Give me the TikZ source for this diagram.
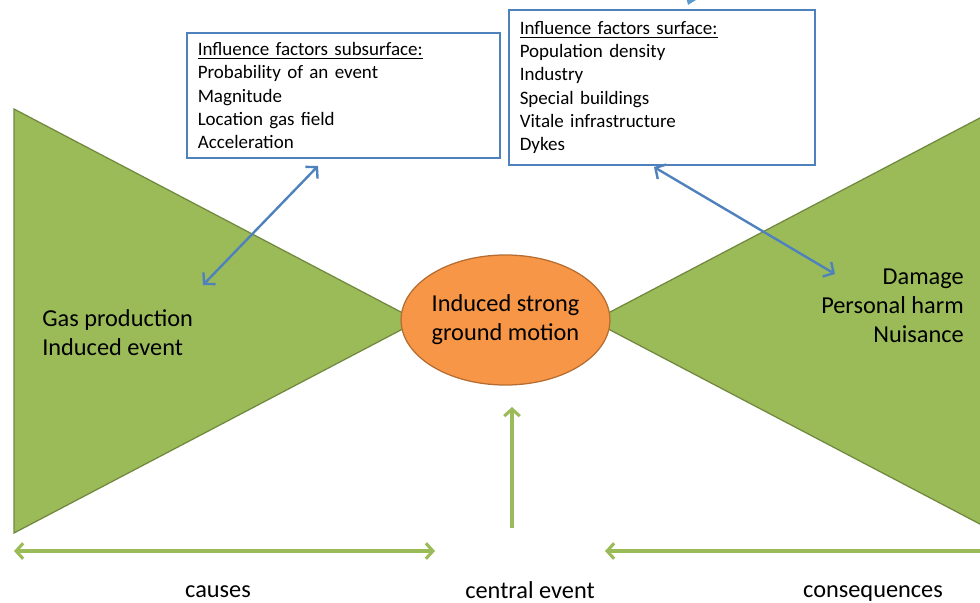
\documentclass[tikz,border=0pt]{standalone}
\usepackage{fontspec}
\setmainfont{Carlito}
\usetikzlibrary{arrows.meta,shapes.geometric}

\definecolor{bowgreen}{HTML}{9BBB59}
\definecolor{bowgreendark}{HTML}{71893F}
\definecolor{evorange}{HTML}{F79646}
\definecolor{evorangedark}{HTML}{B66D31}
\definecolor{factblue}{HTML}{4F81BD}
\definecolor{topblue}{HTML}{5B9BD0}

\begin{document}
\begin{tikzpicture}[x=0.025cm,y=-0.025cm]
  \useasboundingbox (0,0) rectangle (980,603);
  \clip (0,0) rectangle (980,603);
  % def bow tie
  \coordinate (L1) at (14,109);
  \coordinate (L2) at (14,533);
  \coordinate (L3) at (418,321);
  \coordinate (R1) at (997,109);
  \coordinate (R2) at (997,533);
  \coordinate (R3) at (593,321);
  % def arrow ends
  \coordinate (s1) at (318,166);
  \coordinate (s2) at (203,285);
  \coordinate (f1) at (654,167);
  \coordinate (f2) at (835,274);
  \coordinate (c1) at (14,551);
  \coordinate (c2) at (435,551);
  \coordinate (q1) at (1000,551);
  \coordinate (q2) at (605,551);
  \coordinate (e1) at (512,528);
  \coordinate (e2) at (512,407);
  \coordinate (t1) at (706,-40);
  \coordinate (t2) at (688,5);

  %styles
  \tikzset{wing/.style={fill=bowgreen, draw=bowgreendark, line width=0.9pt, line join=miter},
    bigtext/.style={font=\fontsize{17.3}{20.6}\selectfont, inner sep=0pt},
    factbox/.style={draw=factblue, line width=1.3pt, fill=white, align=left, inner xsep=0.27cm, inner ysep=0pt, font=\fontsize{13.5}{16.4}\selectfont},
    link/.style={factblue, line width=1.7pt, {Straight Barb[length=5.5pt,width=12pt]}-{Straight Barb[length=5.5pt,width=12pt]}},
    span/.style={bowgreen, line width=2.2pt}}

  %wings
  \filldraw[wing] (L1) -- (L3) -- (L2) -- cycle;
  \filldraw[wing] (R1) -- (R3) -- (R2) -- cycle;

  %central event
  \node[ellipse, fill=evorange, draw=evorangedark, line width=0.9pt, minimum width=4.375cm, minimum height=3.25cm, align=center, bigtext] (event) at (505.5,320) {Induced strong\\ground motion};

  %boxes
  \node[factbox, minimum width=7.825cm, minimum height=3.125cm, text width=7.285cm] (sub) at (343.5,95.5) {\underline{Influence factors subsurface:}\\Probability of an event\\Magnitude\\Location gas field\\Acceleration};
  \node[factbox, minimum width=7.65cm, minimum height=3.875cm, text width=7.11cm] (surf) at (662,87.5) {\underline{Influence factors surface:}\\Population density\\Industry\\Special buildings\\Vitale infrastructure\\Dykes};

  %arrows
  \draw[link] (s1) -- (s2);
  \draw[link] (f1) -- (f2);
  \draw[topblue, line width=3pt, -{Triangle[length=10pt,width=14pt]}] (t1) -- (t2);
  \draw[span, {Straight Barb[length=5pt,width=11pt]}-{Straight Barb[length=5pt,width=11pt]}] (c1) -- (c2);
  \draw[span, -{Straight Barb[length=5pt,width=11pt]}] (q1) -- (q2);
  \draw[span, -{Straight Barb[length=5pt,width=11pt]}] (e1) -- (e2);

  %labels
  \node[bigtext, align=left, anchor=west] (causetxt) at (42,333) {Gas production\\Induced event};
  \node[bigtext, align=right, anchor=east] (conseqtxt) at (964,306) {Damage\\Personal harm\\Nuisance};
  \node[bigtext, anchor=base] (causes) at (218,597) {causes};
  \node[bigtext, anchor=base] (central) at (530,598) {central event};
  \node[bigtext, anchor=base] (conseq) at (873,597) {consequences};

\end{tikzpicture}
\end{document}
